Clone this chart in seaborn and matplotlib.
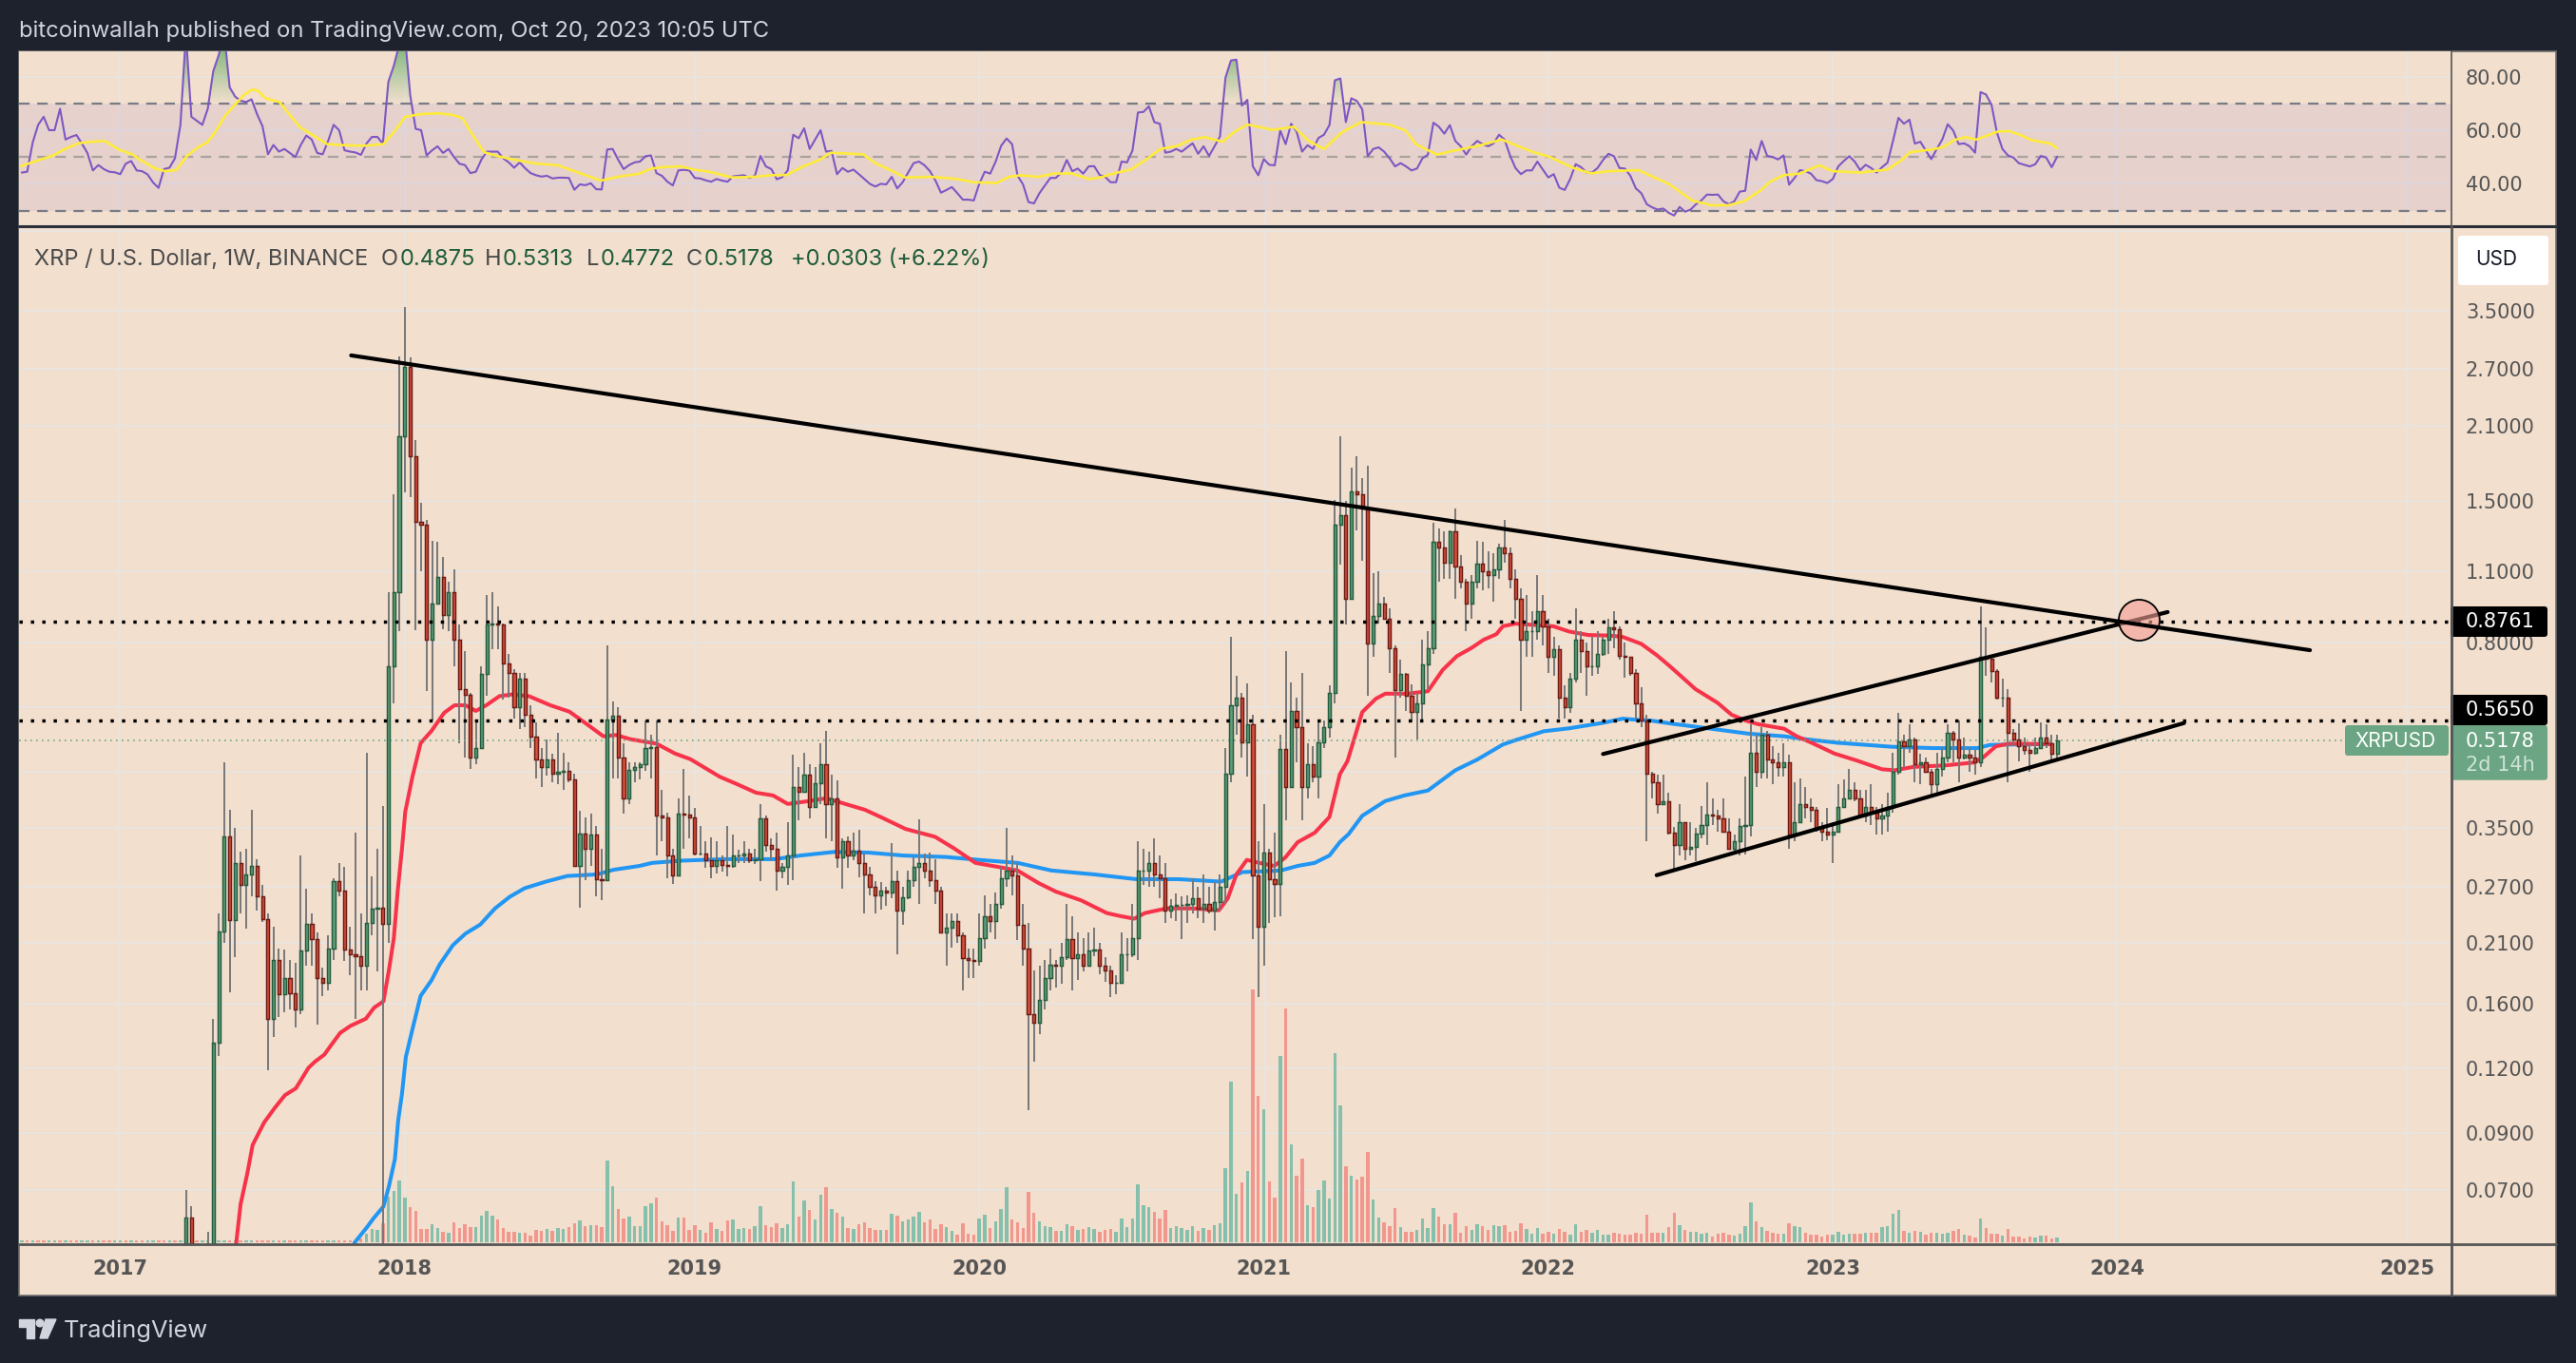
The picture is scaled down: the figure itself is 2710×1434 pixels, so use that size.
import numpy as np
import matplotlib
matplotlib.use('Agg')
import matplotlib.pyplot as plt
import matplotlib.transforms as mtransforms
from matplotlib.patches import Rectangle, FancyBboxPatch, Polygon, Circle
from matplotlib.path import Path
import seaborn as sns

sns.set_theme(style='dark')
plt.rcParams['font.family'] = ['Inter', 'DejaVu Sans']

COLORS = {
    'frame': '#1E222D',
    'paper': '#F2DFCE',
    'grid': '#E9E4DF',
    'up_fill': '#5F9E7B',
    'up_edge': '#235C3D',
    'down_fill': '#D8503A',
    'down_edge': '#6B1A15',
    'wick': '#787878',
    'vol_up': '#86BFAB',
    'vol_down': '#F2978D',
    'ma50': '#F7334A',
    'ma200': '#2196F3',
    'tag': '#6BA583',
    'axis': '#555555',
    'rsi': '#7E57C2',
    'rsi_ma': '#FFEB3B',
}
SCALE_FONT = ['DejaVu Sans']

# weekly bars, bar 0 is the first week of 2017, last bar is Oct 16 2023
early_closes = [.0065, .0064, .0066, .0065, .0063, .0064, .0066, .0065, .0067, .0066,
                .0064, .0065, .0067, .0066, .0068, .0067, .0065, .0066, .0068, .0067,
                .0069, .0068, .0066, .0067, .0069, .0068, .0066, .0068, .0067, .0069]

visible_closes = [
    .062, .052, .05, .05, .05, .135, .221, .338, .233, .30,
    .272, .285, .296, .258, .234, .150, .195, .167, .18, .168,
    .156, .203, .229, .214, .18, .176, .205, .277, .265, .204,
    .20, .198, .19, .23, .245, .246, .229, .72, 1.0, 2.0,
    2.73, 1.83, 1.37, 1.35, .81, .95, 1.07, .905, 1.0, .81,
    .65, .634, .48, .50, .696, .865, .87, .865, .73, .70,
    .60, .68, .58, .526, .475, .46, .476, .446, .45, .452,
    .435, .296, .342, .32, .34, .279, .278, .567, .577, .48,
    .40, .453, .46, .466, .50, .503, .37, .368, .31, .284,
    .374, .372, .368, .313, .313, .303, .296, .304, .297, .296,
    .31, .31, .313, .304, .305, .365, .325, .32, .29, .295,
    .31, .42, .412, .445, .385, .427, .466, .39, .40, .307,
    .33, .31, .317, .30, .285, .27, .26, .265, .263, .277,
    .243, .257, .278, .295, .30, .29, .278, .265, .22, .225,
    .232, .217, .196, .195, .194, .215, .237, .232, .25, .28,
    .29, .284, .228, .205, .153, .147, .163, .18, .191, .19,
    .197, .214, .196, .20, .19, .203, .204, .19, .186, .176,
    .176, .20, .20, .215, .29, .29, .30, .285, .28, .243,
    .248, .249, .249, .25, .256, .245, .25, .243, .252, .27,
    .447, .605, .625, .513, .555, .284, .226, .314, .279, .273,
    .499, .42, .59, .548, .42, .466, .44, .513, .548, .64,
    1.35, 1.41, .97, 1.57, 1.55, 1.45, .795, .90, .95, .89,
    .78, .647, .695, .63, .587, .61, .725, .78, 1.25, 1.22,
    1.14, 1.31, 1.12, 1.05, .95, 1.05, 1.137, 1.10, 1.08, 1.11,
    1.22, 1.19, 1.06, .97, .81, .84, .84, .92, .86, .75,
    .775, .625, .60, .68, .81, .77, .72, .72, .76, .81,
    .855, .85, .755, .75, .70, .61, .565, .447, .43, .39,
    .395, .343, .325, .36, .32, .322, .342, .355, .372, .37,
    .365, .345, .32, .33, .353, .355, .49, .45, .53, .475,
    .47, .46, .47, .34, .36, .39, .385, .38, .35, .345,
    .34, .345, .385, .40, .415, .40, .37, .385, .375, .365,
    .37, .385, .45, .515, .505, .52, .465, .47, .45, .425,
    .455, .48, .535, .52, .48, .485, .48, .47, .75, .745,
    .705, .625, .625, .535, .52, .505, .495, .49, .50, .525,
    .51, .4875, .5178]

visible_highs = [
    .07, .065, .052, .052, .058, .15, .24, .47, .38, .35,
    .315, .32, .38, .305, .272, .24, .226, .205, .204, .195,
    .192, .31, .268, .24, .22, .188, .217, .28, .30, .295,
    .226, .343, .24, .49, .283, .32, .386, 1.0, 1.55, 2.86,
    3.56, 2.84, 1.97, 1.49, 1.38, 1.26, 1.25, 1.17, 1.05, 1.11,
    .865, .77, .64, .56, .72, .99, 1.0, .94, .87, .76,
    .71, .70, .70, .605, .56, .50, .52, .487, .535, .49,
    .47, .447, .378, .367, .373, .353, .32, .79, .615, .60,
    .51, .47, .47, .47, .566, .53, .566, .416, .375, .32,
    .40, .455, .405, .383, .353, .33, .336, .33, .31, .353,
    .34, .318, .33, .32, .32, .39, .37, .335, .343, .30,
    .36, .485, .46, .49, .465, .46, .51, .54, .445, .433,
    .335, .338, .343, .347, .313, .295, .277, .275, .27, .328,
    .29, .27, .29, .308, .364, .313, .314, .305, .27, .24,
    .24, .24, .22, .205, .205, .24, .26, .25, .263, .295,
    .35, .31, .30, .25, .23, .186, .19, .195, .205, .195,
    .21, .25, .237, .22, .215, .22, .225, .21, .197, .19,
    .182, .22, .215, .25, .33, .32, .315, .335, .31, .30,
    .255, .262, .258, .26, .28, .27, .285, .27, .275, .285,
    .50, .82, .69, .64, .666, .58, .33, .39, .32, .343,
    .53, .77, .67, .625, .70, .51, .505, .565, .565, .66,
    1.51, 2.0, 1.5, 1.74, 1.83, 1.66, 1.76, 1.09, 1.10, .98,
    .93, .79, .74, .70, .665, .64, .81, .84, 1.36, 1.33,
    1.31, 1.32, 1.45, 1.18, 1.06, 1.08, 1.26, 1.25, 1.2, 1.19,
    1.24, 1.38, 1.22, 1.11, 1.02, .99, .92, 1.08, .99, .89,
    .82, .79, .66, .70, .93, .84, .80, .82, .84, .82,
    .89, .92, .86, .80, .75, .71, .655, .58, .45, .445,
    .445, .41, .352, .39, .36, .36, .35, .387, .43, .40,
    .38, .40, .365, .34, .365, .44, .555, .53, .55, .54,
    .505, .49, .51, .485, .43, .437, .42, .40, .385, .36,
    .383, .36, .425, .435, .455, .43, .415, .415, .425, .385,
    .39, .41, .49, .585, .53, .555, .525, .488, .48, .455,
    .49, .50, .555, .54, .565, .525, .50, .495, .94, .855,
    .745, .71, .68, .65, .545, .558, .525, .51, .525, .56,
    .555, .53, .5313]

visible_lows = [
    .05, .05, .048, .048, .047, .05, .127, .21, .169, .197,
    .24, .224, .258, .243, .231, .119, .138, .151, .154, .156,
    .144, .153, .19, .19, .146, .166, .17, .195, .259, .194,
    .182, .15, .17, .17, .217, .185, .05, .21, .61, .84,
    1.56, 1.53, .845, 1.10, .645, .566, .96, .85, .84, .72,
    .51, .48, .456, .466, .50, .63, .775, .775, .62, .625,
    .57, .545, .55, .50, .436, .42, .442, .43, .426, .416,
    .43, .296, .246, .278, .296, .259, .254, .278, .437, .436,
    .373, .39, .43, .435, .452, .436, .31, .33, .28, .273,
    .282, .32, .335, .31, .31, .294, .28, .286, .288, .282,
    .294, .30, .30, .30, .298, .277, .315, .303, .265, .28,
    .272, .278, .363, .41, .365, .385, .39, .335, .33, .294,
    .267, .294, .303, .281, .24, .26, .24, .244, .248, .256,
    .20, .228, .255, .27, .25, .28, .27, .25, .22, .19,
    .206, .21, .17, .18, .18, .19, .205, .22, .214, .245,
    .27, .26, .213, .19, .10, .124, .14, .156, .17, .172,
    .175, .195, .17, .178, .185, .19, .198, .183, .177, .165,
    .167, .175, .185, .197, .195, .272, .27, .27, .256, .23,
    .235, .232, .214, .23, .24, .235, .23, .24, .222, .243,
    .25, .43, .53, .48, .44, .214, .165, .19, .23, .236,
    .237, .362, .42, .47, .363, .40, .43, .40, .50, .525,
    .61, 1.13, .865, 1.01, 1.32, 1.15, .63, .75, .87, .885,
    .70, .48, .625, .59, .56, .52, .565, .65, .76, 1.05,
    1.06, 1.06, .97, 1.02, .84, .89, 1.02, 1.01, 1.02, .96,
    1.06, 1.14, 1.02, .89, .59, .75, .75, .81, .79, .70,
    .69, .57, .57, .585, .67, .70, .63, .69, .695, .755,
    .76, .78, .74, .685, .69, .57, .55, .33, .40, .373,
    .39, .34, .29, .31, .304, .31, .302, .335, .325, .355,
    .345, .345, .32, .315, .31, .312, .337, .42, .437, .437,
    .425, .44, .44, .32, .33, .36, .365, .36, .345, .33,
    .332, .30, .345, .385, .40, .395, .365, .36, .355, .34,
    .34, .345, .375, .445, .46, .49, .43, .425, .45, .405,
    .41, .44, .47, .47, .43, .475, .45, .445, .46, .69,
    .67, .62, .60, .43, .505, .472, .485, .45, .485, .50,
    .50, .47, .4772]

# volume is in pane pixels, the picture has no volume scale to read
early_volumes = [2] * 30
visible_volumes = [
    2, 2, 2, 2, 2, 2, 2, 2, 2, 2,
    2, 2, 2, 2, 2, 2, 2, 2, 2, 2,
    2, 2, 2, 2, 2, 2, 2, 2, 2, 2,
    2, 2, 4, 9, 14, 13, 20, 48, 54, 65,
    47, 37, 33, 14, 14, 19, 15, 11, 10, 21,
    15, 19, 16, 16, 28, 33, 28, 24, 15, 11,
    11, 10, 10, 7, 13, 12, 14, 12, 15, 14,
    16, 20, 23, 17, 18, 18, 16, 86, 59, 35,
    25, 27, 17, 17, 38, 41, 47, 22, 18, 12,
    26, 26, 13, 18, 13, 10, 21, 14, 12, 23,
    24, 14, 15, 14, 17, 38, 18, 16, 20, 15,
    19, 64, 27, 44, 34, 24, 50, 58, 35, 31,
    27, 15, 14, 19, 21, 15, 13, 13, 13, 30,
    28, 22, 24, 27, 32, 21, 24, 14, 19, 16,
    12, 8, 20, 9, 8, 25, 29, 15, 22, 35,
    58, 24, 21, 15, 53, 31, 22, 17, 16, 12,
    12, 19, 17, 13, 14, 16, 14, 11, 13, 14,
    11, 25, 16, 25, 61, 39, 37, 32, 25, 34,
    15, 17, 15, 13, 17, 12, 15, 13, 18, 20,
    78, 169, 51, 63, 75, 266, 154, 140, 64, 47,
    196, 246, 103, 70, 88, 39, 37, 55, 65, 46,
    199, 144, 80, 70, 66, 69, 95, 45, 26, 21,
    17, 36, 16, 11, 11, 13, 25, 15, 36, 27,
    19, 19, 31, 10, 17, 13, 19, 17, 13, 18,
    17, 18, 11, 12, 20, 14, 9, 15, 9, 11,
    9, 14, 11, 8, 19, 11, 13, 10, 13, 8,
    8, 10, 9, 8, 8, 10, 9, 29, 10, 10,
    10, 16, 31, 18, 13, 11, 11, 9, 10, 6,
    9, 10, 8, 7, 9, 17, 42, 22, 16, 12,
    10, 9, 9, 20, 17, 16, 10, 8, 8, 6,
    8, 8, 11, 8, 9, 9, 9, 10, 10, 10,
    16, 17, 30, 34, 12, 10, 12, 11, 8, 10,
    10, 9, 10, 12, 14, 8, 7, 5, 25, 15,
    9, 9, 7, 14, 6, 6, 4, 6, 5, 7,
    7, 4, 5]

# one RSI value per bar, from bar -18 on
rsi_values = [
    44.2, 44.5, 55.4, 62, 65, 60, 60, 68, 56.5, 57.5,
    58.2, 55, 51.5, 45, 47, 45.5, 44.5, 44.3, 43.6, 47.5,
    48.5, 45, 44.7, 43.5, 40.5, 38.5, 45.5, 46, 49.5, 62,
    96, 65, 63.5, 62, 68, 82, 88, 96, 76, 72.5,
    71, 70.5, 71.5, 66, 61.5, 51, 54.5, 52, 53, 51.5,
    50, 54.5, 58, 56.5, 51.5, 51, 56, 62, 60, 52.5,
    52, 51.7, 50.8, 55, 57.5, 57.5, 55, 78, 84, 92,
    96, 73, 60.5, 60, 50.6, 52.5, 54, 51.5, 53, 50,
    47.5, 47, 44, 44.5, 49, 52, 52, 52, 49.5, 48,
    46, 48, 45.8, 44, 43.2, 42.7, 43, 42, 42.3, 42.3,
    42.2, 37.8, 39.8, 39.5, 40.2, 38, 37.9, 52.8, 53, 49,
    45.5, 47, 48, 48.3, 50.3, 50.6, 44, 43, 40.8, 39.4,
    45, 45.2, 45, 42.2, 42, 41.3, 40.8, 41.8, 41.2, 40.8,
    42.8, 43, 43.2, 42.2, 43, 50.4, 46.5, 45.5, 41.7, 42.5,
    45, 58.3, 57, 60.7, 53, 56.5, 60, 52, 52.3, 43.6,
    45.9, 44.5, 45.3, 43.6, 41.8, 40, 39, 40, 39.8, 42.6,
    38.3, 40.6, 44.2, 47.7, 48.3, 46.9, 44.7, 41.2, 36.7, 37.7,
    38.8, 36.5, 34.1, 34.1, 33.8, 40, 44.5, 43.8, 48.3, 54.2,
    56.9, 54.8, 43, 39.8, 33.2, 32.7, 36.5, 39.4, 42.2, 42.2,
    44.2, 48.9, 44.7, 45.7, 43.8, 46.5, 46.6, 43.3, 42.6, 40.6,
    40.6, 48.3, 48, 52.4, 66.6, 66.8, 68.9, 63, 62.4, 51.6,
    52, 53, 52, 53.6, 55.1, 51.2, 54, 50.4, 54, 57.7,
    79.6, 86, 86.3, 69.2, 71.3, 46.5, 43.2, 49.2, 47.1, 46.9,
    59.9, 54.8, 62.4, 59.5, 52, 54.4, 53, 57.1, 58.3, 61.9,
    78.6, 79.3, 63, 71.9, 70.9, 67.8, 50.3, 53, 53.6, 52,
    49.5, 46.5, 47.7, 46.5, 45, 45.7, 49.5, 50.9, 62.8, 61.3,
    58.7, 61.9, 56, 54, 50.9, 54, 56, 54.8, 54, 55.1,
    58.3, 56.5, 50.6, 45.9, 43.6, 45, 45, 48.3, 45.3, 42.4,
    43.6, 38.6, 37.7, 41.8, 47.3, 46.2, 44.2, 44.2, 45.9, 48.9,
    51.2, 50.3, 45.9, 45.7, 43, 38.3, 36.5, 32.4, 31.2, 30.4,
    30.8, 29.2, 28.2, 31.4, 29.6, 30.4, 32.4, 33.9, 36, 35.9,
    36, 33.5, 32.4, 33.5, 37.1, 37.4, 52.8, 48.9, 56, 50.4,
    50, 49.1, 50.6, 39.7, 42.2, 45.1, 44.7, 43.8, 41.4, 41,
    40.3, 41.8, 46.5, 48.5, 50.3, 48.3, 45.1, 47.1, 45.9, 44.2,
    46.2, 47.9, 56, 64.6, 62.4, 63.9, 55, 55.7, 52.4, 49.2,
    53, 56.5, 62.2, 59.9, 54.8, 55.1, 54, 51.6, 74.2, 73.3,
    69.5, 59.1, 53, 50.6, 49.8, 47.7, 47.1, 46.5, 47.3, 50.4,
    49.8, 46.2, 50.1]

rsi_ma_bars = [
    -18.1, -15.7, -12.2, -10.7, -7.7, -5.8, -2.8, -.3, 2.2, 3.7, 6.2, 8.2, 10.2, 12.2, 14.2, 16,
    17.4, 19.2, 20.7, 22.6, 24.1, 25.1, 26.6, 29.1, 31.1, 32.9, 35.1, 37.8, 41.1, 44.6, 48.1,
    50.1, 52.1, 55, 58, 60.5, 62.5, 64, 66.5, 69, 73, 76, 80, 83, 85.4, 87.9, 90.9, 94.9, 96.9,
    98.9, 102.4, 104.9, 107.9, 111.8, 115.8, 118.8, 121.8, 124.8, 127.8, 129.8, 135.8, 138,
    141.2, 143.4, 148.3, 152.6, 155.9, 160.2, 162.4, 164.6, 167.8, 170.5, 173.8, 177.1, 179.2,
    181.4, 184.7, 187.4, 190.1, 193.3, 195.7, 198.2, 201.5, 203.7, 206, 210.7, 214.5, 217.2,
    220, 223.2, 226.7, 231.9, 234.9, 236.8, 240.6, 243.8, 248.2, 252.5, 258, 261.2, 265.6,
    268.8, 272.1, 277.5, 283, 287.3, 290.8, 293.8, 296.8, 299.9, 301.4, 303.9, 306.9, 310.5,
    313, 318, 323, 325.6, 327.1, 331.1, 333.1, 335.2, 337.2, 339.2, 343.2, 345.2, 347.2,
    349.3, 352.8, 354]
rsi_ma_values = [
    46.6, 48.3, 50.6, 52.4, 55.1, 55.6, 56, 52.8, 51, 48.9, 45.9, 44.7, 45.1, 50.4, 53.6, 55.6,
    59.5, 65.4, 68.9, 73.1, 75.2, 74.8, 71.9, 70.5, 65.4, 61, 58.3, 54.8, 54.4, 54.2, 54.8,
    59.5, 65, 66, 66.3, 65.8, 64.6, 59.5, 51.8, 50.3, 48.6, 47.6, 46.9, 44.7, 43, 41.2, 42.6,
    43.8, 45.6, 46.2, 46.5, 45.3, 44.4, 42.4, 42.6, 43.2, 43.3, 46.5, 48.9, 51.6, 51, 47.7,
    44.7, 42.4, 42.6, 41.9, 40.6, 40.3, 42.6, 43.2, 42.6, 43.8, 43.9, 41.8, 42.4,
    43.8, 45.3, 48.9, 53, 54.2, 56.5, 57.4, 55.7, 59.5, 62.1, 60.1, 61.3, 56,
    53, 59.1, 63, 62.1, 59.9, 54.8, 50.9, 52.4, 54.2, 56.5, 52, 50.1, 45.9,
    43.9, 44.7, 45.1, 40, 33.8, 32, 32, 33.5, 37.7, 40.6, 43.2, 43.8, 46.9,
    44.7, 44.2, 45.3, 48.9, 51.8, 52.8, 53.6, 56.3, 57.4, 56.5, 59.5, 59.7, 58.3,
    56.3, 55, 53.2]

ma50_bars = [
    21.2, 22, 23.2, 24.2, 26.3, 28.2, 30.1, 32.1, 34.4, 35.6, 37.3, 38.7, 40.2, 42.1, 44.9, 46.4,
    48.1, 49.1, 50, 50.7, 51.5, 52.1, 53.4, 54.9, 56.9, 59.2, 61.1, 63.1, 65, 66.9, 69.3, 71.6,
    74.7, 78.6, 82.1, 85.2, 88.3, 90.6, 93.3, 98, 101.4, 104.2, 109.6, 112.7, 116.2, 119.3, 122,
    125.9, 129, 136.1, 139.2, 143.5, 148.9, 152.4, 156.3, 160.2, 164, 167.9, 171, 175.6, 180.3,
    182.6, 185.3, 187.3, 191.2, 195.8, 200.8, 202.4, 204, 205.9, 208.2, 210.9, 212.9, 215.2,
    218.3, 221, 222.9, 224.3, 227, 229.5, 231.2, 235.3, 239, 241.7, 244.3, 246.9, 249.2, 251.5,
    252.7, 255, 258.4, 261.9, 264.8, 268.3, 272.3, 274.6, 278, 280.9, 283.2, 285.3, 287.9, 291.9,
    294.5, 297.1, 299.4, 304.1, 306.4, 309.3, 313.3, 317.4, 322, 324.3, 327.8, 333.6, 338.8,
    340.5, 342.8, 345.2, 352.7]
ma50_values = [
    .0553, .0657, .0751, .0855, .0945, .1007, .1067, .110, .1205, .1239, .1278, .134, .1408, .1453,
    .150, .1575, .162, .186, .2145, .264, .32, .377, .44, .511, .54, .585, .605, .605, .59, .605,
    .63, .635, .63, .605, .588, .557, .527, .53, .52, .51, .488, .476, .44, .426, .41, .405, .39,
    .395, .40, .38, .367, .349, .337, .32, .30, .295, .29, .274, .264, .254, .24, .237, .234, .24,
    .245, .245, .243, .256, .285, .304, .30, .296, .307, .329, .343, .368, .445, .472, .587, .623,
    .637, .637, .644, .708, .753, .78, .81, .83, .86, .87, .865, .86, .84, .827, .825, .82, .795,
    .755, .72, .688, .65, .612, .58, .565, .556, .545, .527, .511, .488, .473, .455, .453, .46,
    .463, .469, .48, .504, .51, .509]

ma200_bars = [
    42.8, 45.1, 46.3, 48.1, 49.1, 50.2, 50.8, 51.5, 52.2, 53.4, 54.9, 56.9, 58.4, 60.8, 63.1, 65.8,
    68.5, 71.2, 73.9, 77.8, 81.7, 87.1, 90.2, 94.9, 97.2, 102.6, 110.3, 119.6, 124.3, 130.5, 136.9,
    143.1, 150.9, 157, 164, 170.2, 178, 185.7, 193.5, 201.2, 205.1, 209, 212.1, 215.2, 218.3, 221,
    222.9, 224.5, 227, 231.2, 234.7, 239, 244, 248, 252.7, 255, 260.2, 264.8, 271.2, 274.6, 276.3,
    279.8, 283.8, 289.6, 297.7, 304.1, 308.1, 313.9, 323.7, 331.3, 339.4, 341.7, 345.2, 352.7]
ma200_values = [
    .0553, .0593, .0617, .065, .0711, .0803, .0953, .1075, .1265, .143, .166, .178, .191, .208,
    .219, .228, .245, .258, .268, .276, .283, .285, .291, .296, .30, .303, .305, .305, .31, .315,
    .314, .31, .308, .304, .30, .29, .285, .279, .279, .276, .288, .289, .29, .296, .30, .31, .329,
    .341, .37, .395, .405, .414, .453, .475, .508, .518, .539, .546, .56, .57, .568, .565, .557,
    .547, .533, .527, .52, .512, .503, .50, .50, .507, .508, .509]

# drawn trend lines, levels and marker
falling_line_bars = [42.2, 400.2]
falling_line_prices = [2.87, .773]
wedge_top_bars = [271, 374.2]
wedge_top_prices = [.487, .916]
wedge_bottom_bars = [280.8, 377.2]
wedge_bottom_prices = [.284, .559]
levels = [.8761, .565]
level_labels = ['0.8761', '0.5650']
last_price = .5178
apex_bar = 368.9
apex_price = .8866

price_grid = [5.0, 3.5, 2.7, 2.1, 1.5, 1.1, .8, .6, .45, .35, .27, .21, .16, .12, .09, .07]
price_labels = ['', '3.5000', '2.7000', '2.1000', '1.5000', '1.1000', '0.8000', '', '',
                '0.3500', '0.2700', '0.2100', '0.1600', '0.1200', '0.0900', '0.0700']
rsi_grid = [80, 60, 40]
rsi_labels = ['80.00', '60.00', '40.00']
year_bars = [0, 52, 105, 157, 209, 261, 313, 365, 418]
year_labels = ['2017', '2018', '2019', '2020', '2021', '2022', '2023', '2024', '2025']

W, H = 2710, 1434
X_LEFT, X_RIGHT = -18.5, 426


def pane(left, top, right, bottom, **kwargs):
    # axes from pixel box of the 2710x1434 picture
    return fig.add_axes([left / W, 1 - bottom / H, (right - left) / W, (bottom - top) / H], **kwargs)


closes = np.array(early_closes + visible_closes)
highs = np.array(early_closes + visible_highs)
lows = np.array(early_closes + visible_lows)
volumes = np.array(early_volumes + visible_volumes)
opens = np.concatenate([closes[:1], closes[:-1]])
highs = np.maximum(highs, np.maximum(opens, closes))
lows = np.minimum(lows, np.minimum(opens, closes))
bars = np.arange(len(closes)) - 18
rising = closes >= opens

fig = plt.figure(figsize=(W / 100, H / 100), dpi=100, facecolor=COLORS['frame'])

# layer under the panes: paper for price scale and time axis
back = pane(0, 0, W, H, zorder=0)
back.set_xlim(0, W)
back.set_ylim(H, 0)
back.axis('off')
back.add_patch(Rectangle((20, 54), 2669, 1309, facecolor=COLORS['paper'], edgecolor='#6E6E6E', lw=1.2))

# price pane
ax = pane(20, 238, 2578.6, 1308.7, zorder=1)
ax.set_facecolor(COLORS['paper'])
ax.set_yscale('log')
ax.set_xlim(X_LEFT, X_RIGHT)
ax.set_ylim(.05505, 5.10)
ax.set_yticks(price_grid)
ax.set_yticklabels(price_labels, family=SCALE_FONT)
ax.minorticks_off()
ax.set_xticks(year_bars)
ax.set_xticklabels(year_labels, fontweight='bold', family=SCALE_FONT)
ax.yaxis.tick_right()
ax.tick_params(axis='y', which='both', length=0, pad=11, labelsize=15, labelcolor=COLORS['axis'])
ax.tick_params(axis='x', which='both', length=0, pad=12, labelsize=15, labelcolor=COLORS['axis'])
ax.grid(True, color=COLORS['grid'], lw=1.5)
ax.set_axisbelow(True)
for spine in ax.spines.values():
    spine.set_visible(False)

# volume along the bottom of the pane, on its own height scale
vol_trans = mtransforms.blended_transform_factory(
    ax.transData, mtransforms.Affine2D().translate(0, 2).scale(1, 1 / 1070.7) + ax.transAxes)
ax.bar(bars, volumes, width=.6, color=[COLORS['vol_up'] if r else COLORS['vol_down'] for r in rising],
       transform=vol_trans, zorder=1, linewidth=0)

# moving averages sit behind the candles
sns.lineplot(x=ma200_bars, y=ma200_values, color=COLORS['ma200'], linewidth=2.9, ax=ax,
             estimator=None, sort=False, legend=False, zorder=2)
sns.lineplot(x=ma50_bars, y=ma50_values, color=COLORS['ma50'], linewidth=2.9, ax=ax,
             estimator=None, sort=False, legend=False, zorder=2.1)

# candles
ax.vlines(bars, lows, highs, color=COLORS['wick'], lw=1.4, zorder=2.5)
ax.bar(bars, np.abs(closes - opens), bottom=np.minimum(opens, closes), width=.55,
       color=[COLORS['up_fill'] if r else COLORS['down_fill'] for r in rising],
       edgecolor=[COLORS['up_edge'] if r else COLORS['down_edge'] for r in rising],
       linewidth=1.05, zorder=3)

# price levels
ax.plot([X_LEFT, 407], [last_price, last_price], color='#6FA887', lw=1.2, ls=(0, (1, 2.6)), zorder=2.8)
for level in levels:
    ax.plot([X_LEFT, X_RIGHT], [level, level], color='black', lw=2.5, ls=(0, (1, 2.45)), zorder=4,
            dash_capstyle='butt')

# trend lines and the apex circle
ax.plot(wedge_top_bars, wedge_top_prices, color='black', lw=3, zorder=4.2, solid_capstyle='round')
ax.plot(wedge_bottom_bars, wedge_bottom_prices, color='black', lw=3, zorder=4.2, solid_capstyle='round')
ax.scatter([apex_bar], [apex_price], s=961, facecolor=(.95, .62, .58, .62), edgecolor='black',
           linewidth=1.3, zorder=4.5)
ax.plot(falling_line_bars, falling_line_prices, color='black', lw=3, zorder=4.8, solid_capstyle='round')

# RSI pane
ax_rsi = pane(20, 54, 2578.6, 238, zorder=1)
ax_rsi.set_facecolor(COLORS['paper'])
ax_rsi.set_yticks(rsi_grid)
ax_rsi.set_yticklabels(rsi_labels, family=SCALE_FONT)
ax_rsi.set_xticks(year_bars)
ax_rsi.set_xticklabels([])
ax_rsi.yaxis.tick_right()
ax_rsi.tick_params(axis='y', length=0, pad=11, labelsize=15, labelcolor=COLORS['axis'])
ax_rsi.tick_params(axis='x', length=0)
ax_rsi.grid(True, color=COLORS['grid'], lw=1.5)
ax_rsi.set_axisbelow(True)
for spine in ax_rsi.spines.values():
    spine.set_visible(False)
ax_rsi.axhspan(30, 70, color=COLORS['rsi'], alpha=.1, lw=0, zorder=1)
for value, tone in [(70, '#787B86'), (50, '#A9A39F'), (30, '#787B86')]:
    ax_rsi.axhline(value, color=tone, lw=1.6, ls=(0, (5, 3.6)), zorder=1.5)

rsi_arr = np.array(rsi_values)
overbought = ax_rsi.fill_between(bars, 70, rsi_arr, where=rsi_arr > 70, interpolate=True, color='none')
gradient = np.zeros((64, 2, 4))
gradient[..., :3] = (.30, .65, .33)
gradient[..., 3] = np.linspace(.7, 0, 64)[:, None]
shade = ax_rsi.imshow(gradient, extent=[X_LEFT, X_RIGHT, 70, 92], aspect='auto', zorder=1.8)
shade.set_clip_path(Path.make_compound_path(*overbought.get_paths()), transform=ax_rsi.transData)

sns.lineplot(x=bars, y=rsi_arr, color=COLORS['rsi'], linewidth=1.5, ax=ax_rsi,
             estimator=None, sort=False, legend=False, zorder=2)
sns.lineplot(x=rsi_ma_bars, y=rsi_ma_values, color=COLORS['rsi_ma'], linewidth=1.9, ax=ax_rsi,
             estimator=None, sort=False, legend=False, zorder=3)
ax_rsi.set_xlim(X_LEFT, X_RIGHT)
ax_rsi.set_ylim(24.2, 89.4)
ax_rsi.set_xlabel('')
ax_rsi.set_ylabel('')

# everything on top: frame lines, tags, header, logo
top = pane(0, 0, W, H, zorder=5)
top.set_xlim(0, W)
top.set_ylim(H, 0)
top.axis('off')
top.plot([20, 2689], [238, 238], color='#2A2E39', lw=2.2)
top.plot([2578.6, 2578.6], [54, 238], color=COLORS['axis'], lw=1.2)
top.plot([2578.6, 2578.6], [238, 1363], color=COLORS['axis'], lw=2)
top.plot([20, 2689], [1308.7, 1308.7], color=COLORS['axis'], lw=2)


def tag(x0, y0, x1, y1, color):
    top.add_patch(FancyBboxPatch((x0, y0), x1 - x0, y1 - y0, boxstyle='round,pad=0,rounding_size=3',
                                 facecolor=color, edgecolor='none'))


tag(2578, 638, 2680, 670, 'black')
tag(2578, 731, 2680, 763, 'black')
tag(2578, 763, 2680, 820.7, COLORS['tag'])
tag(2467, 763, 2576, 795, COLORS['tag'])
tag(2586, 248, 2681, 300, 'white')
top.text(2594, 654.5, level_labels[0], color='white', fontsize=15, va='center', family=SCALE_FONT)
top.text(2594, 747, level_labels[1], color='white', fontsize=15, va='center', family=SCALE_FONT)
top.text(2594, 779.5, '0.5178', color='white', fontsize=15, va='center', family=SCALE_FONT)
top.text(2594, 805, '2d 14h', color='#CFE3D8', fontsize=15, va='center', family=SCALE_FONT)
top.text(2477, 779.5, 'XRPUSD', color='white', fontsize=15, va='center')
top.text(2604, 273, 'USD', color='#131722', fontsize=15, va='center')

top.text(20, 33, 'bitcoinwallah published on TradingView.com, Oct 20, 2023 10:05 UTC',
         color='#D1D4DC', fontsize=17.1, va='center')

label_gray = '#4A4A4A'
value_green = '#1E5C3A'
header_parts = [(36, 'XRP / U.S. Dollar, 1W, BINANCE', label_gray), (401, 'O', label_gray),
                (421, '0.4875', value_green), (510, 'H', label_gray), (529, '0.5313', value_green),
                (617, 'L', label_gray), (632, '0.4772', value_green), (722, 'C', label_gray),
                (741, '0.5178', value_green), (832, '+0.0303 (+6.22%)', value_green)]
for x_pos, piece, tone in header_parts:
    top.text(x_pos, 273, piece, color=tone, fontsize=17, va='center')

logo_tone = '#D1D4DC'
top.add_patch(Polygon([(20, 1388), (36, 1388), (36, 1408), (28, 1408), (28, 1396), (20, 1396)], color=logo_tone))
top.add_patch(Circle((42, 1392), 3.8, color=logo_tone))
top.add_patch(Polygon([(48, 1388), (59, 1388), (50, 1408), (42, 1408)], color=logo_tone))
top.text(67, 1400, 'TradingView', color=logo_tone, fontsize=18.3, va='center')

fig.savefig('out.png', dpi=100, facecolor=COLORS['frame'])
plt.close(fig)
